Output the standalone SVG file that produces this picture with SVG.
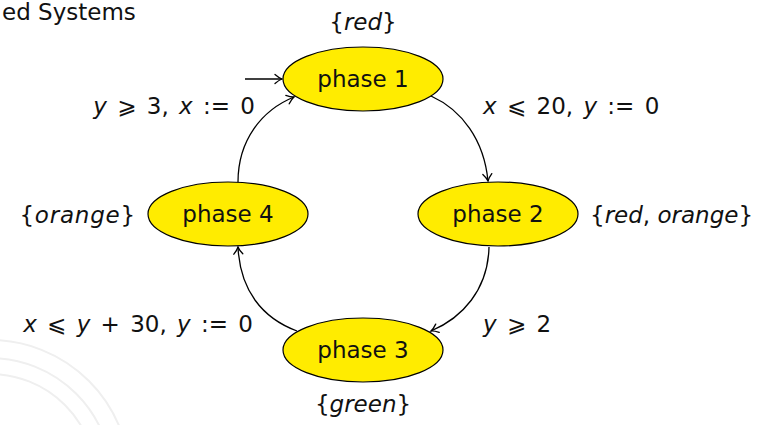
<svg xmlns="http://www.w3.org/2000/svg" width="758" height="425" viewBox="0 0 758 425">
<style>
.node ellipse{fill:#ffec00;stroke:#000;stroke-width:1.2}
.nl{font-family:"DejaVu Sans","Liberation Sans",sans-serif;font-size:23px;fill:#111;text-anchor:middle}
.lb{font-family:"DejaVu Sans","Liberation Sans",sans-serif;font-size:23px;fill:#111}
.i{font-style:italic}
.edge{fill:none;stroke:#000;stroke-width:1.3}
.seal{fill:none;stroke:#efefef;stroke-width:2}
</style>
<defs>
<marker id="ah" markerWidth="14" markerHeight="14" refX="10" refY="7" orient="auto" markerUnits="userSpaceOnUse">
<path d="M3,2.5 Q7,6 10,7 Q7,8 3,11.5" fill="none" stroke="#000" stroke-width="1.3" stroke-linecap="round"/>
</marker>
</defs>
<g id="seal">
<circle class="seal" cx="-10" cy="480" r="140"/>
<circle class="seal" cx="-10" cy="480" r="122"/>
<circle class="seal" cx="-10" cy="480" r="106"/>
</g>
<text class="lb" x="2" y="20" font-size="21">ed Systems</text>
<g id="connectors">
<path class="edge" d="M245,79 L282,79" marker-end="url(#ah)"/>
<path class="edge" d="M431,96 C462,110 484,140 488,181" marker-end="url(#ah)"/>
<path class="edge" d="M489,247 C488,290 462,318 431,331" marker-end="url(#ah)"/>
<path class="edge" d="M297,331 C262,318 240,290 238,247" marker-end="url(#ah)"/>
<path class="edge" d="M238,182 C238,140 262,110 294,97" marker-end="url(#ah)"/>
</g>
<g id="phase1" class="node"><ellipse cx="363" cy="79" rx="80" ry="32"/><text class="nl" x="363" y="87">phase 1</text></g>
<g id="phase2" class="node"><ellipse cx="498" cy="214" rx="80" ry="32"/><text class="nl" x="498" y="222">phase 2</text></g>
<g id="phase3" class="node"><ellipse cx="363" cy="350" rx="80" ry="32"/><text class="nl" x="363" y="358">phase 3</text></g>
<g id="phase4" class="node"><ellipse cx="228" cy="214" rx="80" ry="32"/><text class="nl" x="228" y="222">phase 4</text></g>
<g id="labels">
<text class="lb" x="363" y="30" text-anchor="middle">{<tspan class="i">red</tspan>}</text>
<text class="lb" x="255" y="114" text-anchor="end" word-spacing="3"><tspan class="i">y</tspan> ⩾ 3, <tspan class="i">x</tspan> := 0</text>
<text class="lb" x="483" y="114" word-spacing="3"><tspan class="i">x</tspan> ⩽ 20, <tspan class="i">y</tspan> := 0</text>
<text class="lb" x="136" y="223" text-anchor="end" letter-spacing="0.8">{<tspan class="i">orange</tspan>}</text>
<text class="lb" x="590" y="223">{<tspan class="i">red</tspan>, <tspan class="i">orange</tspan>}</text>
<text class="lb" x="253" y="332" text-anchor="end" word-spacing="3"><tspan class="i">x</tspan> ⩽ <tspan class="i">y</tspan> + 30, <tspan class="i">y</tspan> := 0</text>
<text class="lb" x="483" y="332" word-spacing="3"><tspan class="i">y</tspan> ⩾ 2</text>
<text class="lb" x="363" y="412" text-anchor="middle">{<tspan class="i">green</tspan>}</text>
</g>
</svg>
